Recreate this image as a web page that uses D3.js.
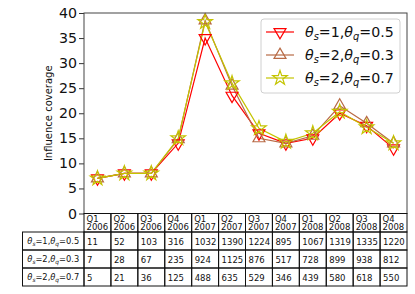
<!DOCTYPE html>
<html><head><meta charset="utf-8">
<script src="https://cdn.jsdelivr.net/npm/d3@7"></script>
<style>body{margin:0;background:#fff}svg{display:block;font-family:"DejaVu Sans",sans-serif}</style>
</head><body><svg id="c" width="415" height="294"></svg>
<script>
const categories = ["Q1 2006","Q2 2006","Q3 2006","Q4 2006","Q1 2007","Q2 2007","Q3 2007","Q4 2007","Q1 2008","Q2 2008","Q3 2008","Q4 2008"];
const seriesNames = [["1","0.5"],["2","0.3"],["2","0.7"]];
const coverage1 = [7, 8, 8, 14, 35, 23.5, 16, 14, 15, 20, 17.5, 13];
const coverage2 = [7, 8, 8, 14.8, 38.5, 25.5, 15, 14, 15.5, 21.5, 18, 14];
const coverage3 = [7, 8, 8, 15, 38.2, 26, 17, 14.3, 16, 20.3, 17.2, 14];
const tableRow1 = [11, 52, 103, 316, 1032, 1390, 1224, 895, 1067, 1319, 1335, 1220];
const tableRow2 = [7, 28, 67, 235, 924, 1125, 876, 517, 728, 899, 938, 812];
const tableRow3 = [5, 21, 36, 125, 488, 635, 529, 346, 439, 580, 618, 550];
const yTicks = [0,5,10,15,20,25,30,35,40];

const svg = d3.select("#c");
const L=84, R=407, T=13, B=213.5;
const x = d3.scaleBand().domain(categories).range([L,R]);
const y = d3.scaleLinear().domain([0,40]).range([B,T]);
const colors = ["#ff0000","#b86a45","#c4c400"];
const shapes = ["down","up","star"];
const series = [coverage1, coverage2, coverage3];

function marker(g, shape, color){
  let p;
  if(shape==="star") p = d3.symbol(d3.symbolStar, 65)();
  else p = d3.symbol(d3.symbolTriangle, 62)();
  const m = g.append("path").attr("d",p).attr("fill","none").attr("stroke",color).attr("stroke-width",1.2);
  if(shape==="down") m.attr("transform","rotate(180)");
  return m;
}

// y axis
const yAxis = svg.append("g").attr("transform",`translate(${L},0)`)
  .call(d3.axisLeft(y).tickValues(yTicks).tickSize(5).tickPadding(2));
yAxis.select(".domain").remove();
yAxis.selectAll("line").attr("stroke","#333");
yAxis.selectAll("text").attr("font-size",14.2).attr("fill","#111").attr("font-family","DejaVu Sans");

svg.append("text").attr("transform",`translate(52,${(T+B)/2}) rotate(-90)`)
  .attr("text-anchor","middle").attr("font-size",10).attr("fill","#111").text("Influence coverage");

// lines
const line = d3.line().x((d,i)=>x(categories[i])+x.bandwidth()/2).y(d=>y(d));
series.forEach((s,k)=>{
  svg.append("path").attr("d",line(s)).attr("fill","none").attr("stroke",colors[k]).attr("stroke-width",1.2);
});
series.forEach((s,k)=>{
  s.forEach((v,i)=>{
    const g = svg.append("g").attr("transform",`translate(${x(categories[i])+x.bandwidth()/2},${y(v)})`);
    marker(g, shapes[k], colors[k]);
  });
});

// frame
svg.append("rect").attr("x",L).attr("y",T).attr("width",R-L).attr("height",B-T)
  .attr("fill","none").attr("stroke","#444").attr("stroke-width",1);

// legend
const lg = svg.append("g");
lg.append("rect").attr("x",261).attr("y",19).attr("width",139).attr("height",74).attr("rx",3)
  .attr("fill","#fff").attr("fill-opacity",0.85).attr("stroke","#d0d0d0");
function label(t, p, q, fs){
  t.append("tspan").attr("font-style","italic").text("θ");
  t.append("tspan").attr("font-style","italic").attr("font-size",fs*0.7).attr("dy",fs*0.22).text("s");
  t.append("tspan").attr("dy",-fs*0.22).text("="+p+",");
  t.append("tspan").attr("font-style","italic").text("θ");
  t.append("tspan").attr("font-style","italic").attr("font-size",fs*0.7).attr("dy",fs*0.22).text("q");
  t.append("tspan").attr("dy",-fs*0.22).text("="+q);
}
seriesNames.forEach((n,k)=>{
  const yy = 32 + k*23;
  lg.append("line").attr("x1",266).attr("x2",294).attr("y1",yy).attr("y2",yy).attr("stroke",colors[k]).attr("stroke-width",1.2);
  marker(lg.append("g").attr("transform",`translate(280,${yy})`), shapes[k], colors[k]);
  const t = lg.append("text").attr("x",305).attr("y",yy+5).attr("font-size",14.2).attr("fill","#111");
  label(t, n[0], n[1], 14.2);
});

// table
const tb = svg.append("g");
const rowH = 18, hdrTop = B, hdrBot = 232;
const rows = [tableRow1, tableRow2, tableRow3];
const fs = 8.5;
categories.forEach((c,i)=>{
  const x0 = x(c);
  tb.append("rect").attr("x",x0).attr("y",hdrTop).attr("width",x.bandwidth()).attr("height",hdrBot-hdrTop)
    .attr("fill","none").attr("stroke","#111").attr("stroke-width",1);
  const parts = c.split(" ");
  tb.append("text").attr("x",x0+2.5).attr("y",221.5).attr("font-size",fs).attr("fill","#111").text(parts[0]);
  tb.append("text").attr("x",x0+2.5).attr("y",230).attr("font-size",fs).attr("fill","#111").text(parts[1]);
});
rows.forEach((r,k)=>{
  const y0 = hdrBot + k*rowH;
  tb.append("rect").attr("x",22.5).attr("y",y0).attr("width",L-22.5).attr("height",rowH)
    .attr("fill","none").attr("stroke","#111").attr("stroke-width",1);
  const t = tb.append("text").attr("x",(22.5+L)/2).attr("y",y0+12).attr("text-anchor","middle").attr("font-size",8.3).attr("fill","#111");
  label(t, seriesNames[k][0], seriesNames[k][1], 8.3);
  r.forEach((v,i)=>{
    const x0 = x(categories[i]);
    tb.append("rect").attr("x",x0).attr("y",y0).attr("width",x.bandwidth()).attr("height",rowH)
      .attr("fill","none").attr("stroke","#111").attr("stroke-width",1);
    tb.append("text").attr("x",x0+3).attr("y",y0+12.5).attr("font-size",fs).attr("fill","#111").text(v);
  });
});
</script></body></html>
